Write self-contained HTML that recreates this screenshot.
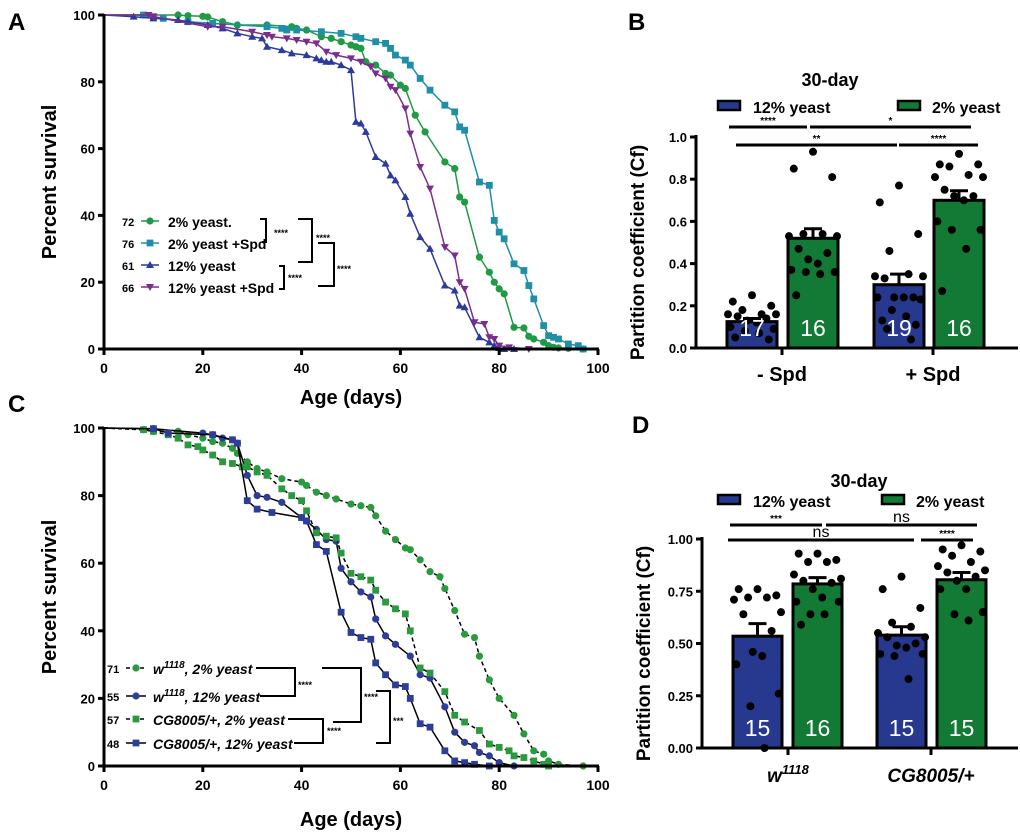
<!DOCTYPE html>
<html><head><meta charset="utf-8"><style>
body{margin:0;background:#fff}
svg{display:block;font-family:"Liberation Sans",Arial,sans-serif}
</style></head><body>
<svg id="fig" width="1020" height="834" viewBox="0 0 1020 834"></svg>
<script>
// ---------- Panel A data ----------
const aGreenX=[15,17,20,21,24,27,33,38,39,41,44,46,48,50,51,52,53,55,57,58,60,61,63,65,69,71,72,73,76,78,79,80,81,83,85,86,87,89,90,91,92,94,97];
const aGreenY=[100,99.8,99.6,99.4,98,97,97,96.5,96,95.5,93.5,93,92,91,90.5,90,86,85,82.5,82,79,78,70,65,56,54,45.5,44,27.5,23,20,18,16.5,6.5,6.3,3.8,3,2,1,0.5,0.3,0.2,0];
const aTealX=[8,10,12,17,22,33,36,37,39,44,48,51,52,55,57,58,59,61,62,64,66,69,71,72,73,76,78,79,80,81,83,85,86,87,89,90,91,92,94,96,97];
const aTealY=[100,99.5,99,98,97.5,96.5,96,95.5,95.5,95,94.5,93.5,93,92,91.5,90,88,86.5,85,81,77.5,73,71,66.5,65.5,50,49,38.5,35,33,25.5,23.5,19,15,7,4,3.5,3,1.5,1,0];
const aBlueX=[6,10,15,17,21,24,27,30,32,33,36,38,41,43,44,45,46,48,50,51,52,53,55,57,58,59,61,62,64,66,69,71,72,73,76,78,79,80,81,83];
const aBlueY=[99.5,99,98.5,98,97,96,94.5,93.5,93,90.5,89.5,88.5,88,87,86.5,86,86,85,83.5,68,67.5,65,57.5,55.5,52,50.5,45.5,40.5,33.5,30,19,17.5,13,12.5,3.5,2,1,0.3,0,0];
const aPurpX=[9,10,21,24,30,33,34,37,39,41,43,45,47,50,52,54,55,57,58,59,61,62,64,66,69,71,72,73,75,77,78,79,80,82,86];
const aPurpY=[100,99.5,96.5,96.5,95,94,93.5,93,92.5,92,91.5,89,88,87,86,84.5,82.5,81,78.5,77.5,72,64.5,54.5,48,30.5,28,20,18,8,7.5,3.5,3,1,0.5,0];
const survTicks=[0,20,40,60,80,100];
// ---------- Panel C data ----------
const cW2X=[8,10,15,17,20,22,24,26,27,29,31,33,36,40,41,43,45,47,50,52,54,55,57,59,61,62,64,66,68,69,71,73,75,76,78,80,83,85,87,89,90,92,97];
const cW2Y=[99.5,99,99,98,97,96,95.5,94,92.5,90,88,87,85,84,83,81,80,79,77.5,77,76.5,74,69.5,67,64.5,64,61,57.5,56,52.5,46,39,38,32.5,25.5,20,15,9.5,4.5,3.5,1.5,0.5,0];
const cW12X=[10,20,22,24,26,27,29,31,33,36,40,41,43,45,47,48,50,52,54,55,57,59,62,64,66,69,71,73,75,76,78,80,83];
const cW12Y=[99.8,98.5,98,97,96.5,95.5,86,80,79.5,78,73.5,72.5,70,67,66.5,58.5,54.5,51.5,50,43.5,38.5,36,32.5,27,26,17.5,10,7,6,4,3,1,0];
const cCG2X=[8,10,13,15,17,19,20,22,24,26,28,29,31,33,36,38,40,41,43,45,47,48,50,52,54,55,57,59,61,62,64,66,69,71,73,76,78,80,82,83,85,87,89,90];
const cCG2Y=[99.5,99,98,97,95,94.5,93.5,92,90,89.5,88.5,88.5,87,86,82,80,78.5,75.5,69,68,67.5,63,57,56,55,52,48.5,46.5,45,40,29,27.5,22,15,13,10.5,6.5,5.5,4.5,3,2.5,1.5,0.5,0];
const cCG12X=[10,13,22,26,27,29,31,34,40,41,43,45,48,50,52,54,55,57,59,61,62,64,66,69,71,73,75,78];
const cCG12Y=[99.8,98.5,98,96.5,95.5,78.5,76,75,73.5,72.5,65.5,63.5,45.5,39.5,38,37.5,30.5,27,24,23.5,20,12.5,11.5,4.5,1.5,1,0.5,0];
// ---------- Panel B data ----------
const bMeans=[0.125,0.52,0.30,0.70];
const bSem=[0.015,0.045,0.05,0.045];
const bCounts=["17","16","19","16"];
const bPts0=[0.25,0.22,0.20,0.18,0.16,0.16,0.16,0.15,0.14,0.13,0.12,0.10,0.09,0.08,0.07,0.05,0.04];
const bPts1=[0.93,0.85,0.81,0.54,0.54,0.53,0.53,0.47,0.45,0.42,0.40,0.37,0.36,0.36,0.35,0.25];
const bPts2=[0.77,0.69,0.54,0.46,0.35,0.34,0.34,0.33,0.24,0.24,0.24,0.24,0.23,0.18,0.15,0.13,0.11,0.09,0.04];
const bPts3=[0.92,0.87,0.87,0.86,0.82,0.81,0.81,0.75,0.72,0.72,0.70,0.60,0.56,0.56,0.47,0.27];
const bTicks=[0,0.2,0.4,0.6,0.8,1.0];
const bTickLabels=["0.0","0.2","0.4","0.6","0.8","1.0"];
// ---------- Panel D data ----------
const dMeans=[0.535,0.785,0.54,0.805];
const dSem=[0.06,0.03,0.04,0.035];
const dCounts=["15","16","15","15"];
const dPts0=[0.76,0.76,0.73,0.72,0.72,0.71,0.65,0.64,0.56,0.46,0.44,0.40,0.26,0.20,0.0];
const dPts1=[0.93,0.93,0.90,0.89,0.89,0.83,0.81,0.80,0.79,0.76,0.72,0.70,0.70,0.64,0.64,0.59];
const dPts2=[0.82,0.76,0.67,0.60,0.58,0.55,0.53,0.53,0.50,0.49,0.48,0.45,0.45,0.44,0.33];
const dPts3=[0.97,0.95,0.94,0.92,0.89,0.87,0.85,0.84,0.82,0.80,0.76,0.76,0.65,0.64,0.61];
const dTicks=[0,0.25,0.5,0.75,1.0];
const dTickLabels=["0.00","0.25","0.50","0.75","1.00"];

const NS="http://www.w3.org/2000/svg";
const svg=document.getElementById('fig');
function el(tag,attrs,parent,text){const e=document.createElementNS(NS,tag);for(const k in attrs)e.setAttribute(k,attrs[k]);if(text!==undefined)e.textContent=text;(parent||svg).appendChild(e);return e;}
function grp(name){const g=el('g',{});


return g;}

[["A",8,30],["B",628,30],["C",8,412],["D",632,433]].forEach(([t,x,y])=>{
 const e=el('text',{x:x,y:y,'font-size':24,'font-weight':'bold'},svg,t);
 
 
});

function marker(g,type,x,y,color){
 let e;
 if(type==='circle') e=el('circle',{cx:x,cy:y,r:3.6,fill:color},g);
 else if(type==='square') e=el('rect',{x:x-3.4,y:y-3.4,width:6.8,height:6.8,fill:color},g);
 else if(type==='up') e=el('path',{d:`M${x},${y-4}L${x+4},${y+3}L${x-4},${y+3}Z`,fill:color},g);
 else e=el('path',{d:`M${x},${y+4}L${x+4},${y-3}L${x-4},${y-3}Z`,fill:color},g);
 return e;
}

function survPanel(name,x0,x1,y0,y1,series,xlabelY){
 const g=grp(name);
 const sx=v=>x0+(x1-x0)*v/100, sy=v=>y0-(y0-y1)*v/100;
 series.forEach(s=>{
  const sg=el('g',{},g);
  
  
  let d=`M${sx(0)},${sy(100)}`;
  s.xs.forEach((v,i)=>{d+=`L${sx(v).toFixed(1)},${sy(s.ys[i]).toFixed(1)}`;});
  el('path',{d:d,fill:'none',stroke:s.line,'stroke-width':1.5,'stroke-dasharray':s.dash||'none'},sg);
  s.xs.forEach((v,i)=>{const m=marker(sg,s.mk,sx(v),sy(s.ys[i]),s.color);
   
   });
 });
 el('path',{d:`M${x0},${y1-1}V${y0}H${x1+1}`,fill:'none',stroke:'#000','stroke-width':3},g);
 survTicks.forEach(t=>{
  el('line',{x1:x0-6,x2:x0,y1:sy(t),y2:sy(t),stroke:'#000','stroke-width':3},g);
  el('text',{x:x0-9,y:sy(t)+5,'font-size':13,'font-weight':'bold','text-anchor':'end'},g,String(t));
  el('line',{x1:sx(t),x2:sx(t),y1:y0,y2:y0+6,stroke:'#000','stroke-width':3},g);
  el('text',{x:sx(t),y:y0+24,'font-size':14,'font-weight':'bold','text-anchor':'middle'},g,String(t));
 });
 const yl=el('text',{x:0,y:0,'font-size':20,'font-weight':'bold','text-anchor':'middle',transform:`translate(56,${(y0+y1)/2}) rotate(-90)`},g,'Percent survival');
 
 
 const xl=el('text',{x:(x0+x1)/2,y:xlabelY,'font-size':20,'font-weight':'bold','text-anchor':'middle'},g,'Age (days)');
 
 
 return g;
}

survPanel('survival-chart-a',104,598,349,15,[
 {name:'series-2-yeast',xs:aGreenX,ys:aGreenY,mk:'circle',color:'#1f9a45',line:'#1f9a45'},
 {name:'series-2-yeast-spd',xs:aTealX,ys:aTealY,mk:'square',color:'#1e8fa6',line:'#1e8fa6'},
 {name:'series-12-yeast',xs:aBlueX,ys:aBlueY,mk:'up',color:'#2b3a9c',line:'#2b3a9c'},
 {name:'series-12-yeast-spd',xs:aPurpX,ys:aPurpY,mk:'down',color:'#7b2d8e',line:'#7b2d8e'}],404);
const legA=grp('legend-a');
[["72","2% yeast.",'circle','#1f9a45',221],["76","2% yeast +Spd",'square','#1e8fa6',243],["61","12% yeast",'up','#2b3a9c',265],["66","12% yeast +Spd",'down','#7b2d8e',287]].forEach(r=>{
 const le=el('g',{},legA);
 
 
 el('text',{x:122,y:r[4]+5,'font-size':11,'font-weight':'bold'},le,r[0]);
 el('line',{x1:141,x2:159,y1:r[4],y2:r[4],stroke:r[3],'stroke-width':1.5},le);
 marker(le,r[2],150,r[4],r[3]);
 el('text',{x:168,y:r[4]+6,'font-size':14,'font-weight':'bold'},le,r[1]);
});
[['M260,219H266V242H262',274,236],['M298,219H312V262H298',316,241],['M318,243H334V286H318',337,272],['M279,266H284V289H279',288,281]].forEach(b=>{
 el('path',{d:b[0],fill:'none',stroke:'#000','stroke-width':2},legA);
 el('text',{x:b[1],y:b[2],'font-size':9,'font-weight':'bold'},legA,'****');
});

survPanel('survival-chart-c',104,598,766,428,[
 {name:'series-w1118-2-yeast',xs:cW2X,ys:cW2Y,mk:'circle',color:'#2a9a3e',line:'#000',dash:'4,3'},
 {name:'series-w1118-12-yeast',xs:cW12X,ys:cW12Y,mk:'circle',color:'#2e3d9a',line:'#000'},
 {name:'series-cg8005-2-yeast',xs:cCG2X,ys:cCG2Y,mk:'square',color:'#2a9a3e',line:'#000',dash:'4,3'},
 {name:'series-cg8005-12-yeast',xs:cCG12X,ys:cCG12Y,mk:'square',color:'#2e3d9a',line:'#000'}],826);
const legC=grp('legend-c');
[["71",'circle','#2a9a3e',668,true,'w','1118',', 2% yeast'],["55",'circle','#2e3d9a',696,false,'w','1118',', 12% yeast'],["57",'square','#2a9a3e',719,true,'CG8005/+, 2% yeast','',''],["48",'square','#2e3d9a',743,false,'CG8005/+, 12% yeast','','']].forEach(r=>{
 const le=el('g',{},legC);
 
 
 el('text',{x:107,y:r[3]+5,'font-size':11,'font-weight':'bold'},le,r[0]);
 el('line',{x1:126,x2:146,y1:r[3],y2:r[3],stroke:'#000','stroke-width':1.5,'stroke-dasharray':r[4]?'4,3':'none'},le);
 marker(le,r[1],136,r[3],r[2]);
 const t=el('text',{x:153,y:r[3]+6,'font-size':14,'font-weight':'bold','font-style':'italic'},le);
 el('tspan',{},t,r[5]);
 if(r[6]){el('tspan',{dy:-6,'font-size':10},t,r[6]);el('tspan',{dy:6},t,r[7]);}
});
[['M256,668H295V696H260',298,688],['M322,668H361V722H333',364,700],['M288,719H323V743H294',327,734],['M376,691H390V743H376',393,724]].forEach((b,i)=>{
 el('path',{d:b[0],fill:'none',stroke:'#000','stroke-width':2},legC);
 el('text',{x:b[1],y:b[2],'font-size':9,'font-weight':'bold'},legC,i==3?'***':'****');
});

function jitter(i,n){const pat=[0,-0.8,0.8,-0.4,0.4,-1,1,-0.6,0.6,-0.2,0.2,-0.9,0.9,-0.3,0.3,-0.7,0.7,-0.5,0.5];return pat[i%pat.length];}
function barPanel(name,cfg){
 const g=grp(name);
 const {ax,y0,ytop,ymax,xend,barX,bw,means,sem,counts,pts,ticks,tickLabels}=cfg;
 const sy=v=>y0-(y0-ytop)*v/ymax;
 const cols=['#27398f','#137a35','#27398f','#137a35'];
 means.forEach((m,i)=>{
  const b=el('rect',{x:barX[i],y:sy(m),width:bw,height:y0-sy(m),fill:cols[i],stroke:'#000','stroke-width':3},g);
  
  
  const cx=barX[i]+bw/2;
  el('path',{d:`M${cx},${sy(m)}V${sy(m+sem[i])}M${cx-9},${sy(m+sem[i])}H${cx+9}`,stroke:'#000','stroke-width':3,fill:'none'},g);
  pts[i].forEach((v,j)=>{const c=el('circle',{cx:cx+jitter(j)*bw*0.48,cy:sy(v),r:4,fill:'#000'},g);
   
   });
  el('text',{x:cx,y:y0-12,'font-size':23,fill:'#fff','text-anchor':'middle'},g,counts[i]);
 });
 el('path',{d:`M${ax},${ytop-2}V${y0}H${xend}`,fill:'none',stroke:'#000','stroke-width':3},g);
 ticks.forEach((t,i)=>{
  el('line',{x1:ax-6,x2:ax,y1:sy(t),y2:sy(t),stroke:'#000','stroke-width':3},g);
  el('text',{x:ax-9,y:sy(t)+5,'font-size':13,'font-weight':'bold','text-anchor':'end'},g,tickLabels[i]);
 });
 cfg.cats.forEach(c=>{
  el('line',{x1:c.x,x2:c.x,y1:y0,y2:y0+7,stroke:'#000','stroke-width':3},g);
 });
 const yl=el('text',{x:0,y:0,'font-size':19,'font-weight':'bold','text-anchor':'middle',transform:`translate(${ax-52},${(y0+ytop)/2+10}) rotate(-90)`},g,'Partition coefficient (Cf)');
 
 
 return {g,sy};
}

const B=barPanel('bar-chart-b',{ax:696,y0:348,ytop:137,ymax:1,xend:1018,barX:[727,788,874,934],bw:50,means:bMeans,sem:bSem,counts:bCounts,pts:[bPts0,bPts1,bPts2,bPts3],ticks:bTicks,tickLabels:bTickLabels,cats:[{x:782},{x:933}]});
el('text',{x:782,y:381,'font-size':20,'font-weight':'bold','text-anchor':'middle'},B.g,'- Spd');
el('text',{x:933,y:381,'font-size':20,'font-weight':'bold','text-anchor':'middle'},B.g,'+ Spd');
el('text',{x:830,y:86,'font-size':18,'font-weight':'bold','text-anchor':'middle'},B.g,'30-day');
function legendBars(g,y,x1,x2){
 el('rect',{x:x1,y:y-5,width:22,height:9,fill:'#27398f',stroke:'#000','stroke-width':2.5},g);
 el('text',{x:x1+35,y:y+7,'font-size':16,'font-weight':'bold'},g,'12% yeast');
 el('rect',{x:x2,y:y-5,width:22,height:9,fill:'#137a35',stroke:'#000','stroke-width':2.5},g);
 el('text',{x:x2+34,y:y+7,'font-size':16,'font-weight':'bold'},g,'2% yeast');
}
legendBars(B.g,106,718,898);
function sig(g,x1,x2,y,t,fs){
 el('line',{x1:x1,x2:x2,y1:y,y2:y,stroke:'#000','stroke-width':3},g);
 el('text',{x:(x1+x2)/2,y:y-3,'font-size':fs||10,'font-weight':fs?'normal':'bold','text-anchor':'middle'},g,t);
}
sig(B.g,729,807,127,'****');sig(B.g,810,971,127,'*');
sig(B.g,736,897,145,'**');sig(B.g,899,978,145,'****');

const D=barPanel('bar-chart-d',{ax:702,y0:748,ytop:539,ymax:1,xend:1018,barX:[733,793,877,937],bw:49,means:dMeans,sem:dSem,counts:dCounts,pts:[dPts0,dPts1,dPts2,dPts3],ticks:dTicks,tickLabels:dTickLabels,cats:[{x:788},{x:931}]});
const wl=el('text',{x:788,y:782,'font-size':19,'font-weight':'bold','font-style':'italic','text-anchor':'middle'},D.g);
el('tspan',{},wl,'w');el('tspan',{dy:-8,'font-size':13},wl,'1118');
el('text',{x:931,y:782,'font-size':19,'font-weight':'bold','font-style':'italic','text-anchor':'middle'},D.g,'CG8005/+');
el('text',{x:859,y:487,'font-size':18,'font-weight':'bold','text-anchor':'middle'},D.g,'30-day');
legendBars(D.g,500,718,882);
sig(D.g,730,822,525,'***');sig(D.g,826,977,525,'ns',16);
sig(D.g,728,914,540,'ns',16);sig(D.g,921,973,540,'****');
</script>
</body></html>
